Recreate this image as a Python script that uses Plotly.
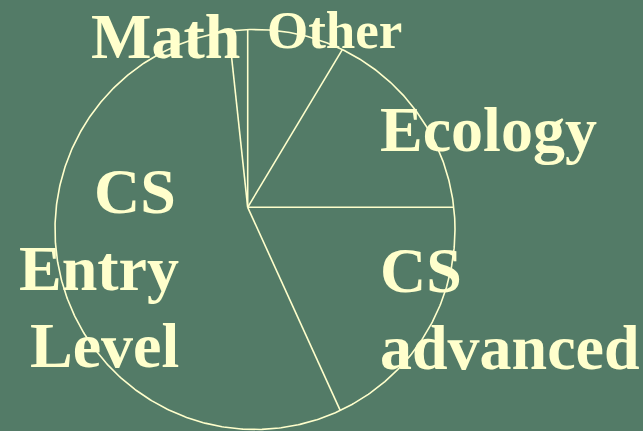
import numpy as np
import plotly.graph_objects as go

# Slice shares in percent, listed clockwise from 12 o'clock
categories = ["Other", "Ecology", "CS advanced", "CS Entry Level", "Math"]
shares = [8.6, 16.4, 18.2, 55.1, 1.7]

BG = "#537B67"
INK = "#FFFFCC"
W, H = 643, 431

# Outline circle and the point where the slice edges meet
cx, cy, r = 255.0, 229.5, 200.0
vx, vy = 247.7, 207.3

fig = go.Figure()

# Circle outline
t = np.linspace(0, 2 * np.pi, 721)
fig.add_trace(go.Scatter(
    x=cx + r * np.cos(t), y=cy + r * np.sin(t),
    mode="lines", line=dict(color=INK, width=1.6),
    hoverinfo="skip", showlegend=False))

# Slice edges: one ray per boundary, angle measured clockwise from up
bounds = np.concatenate([[0.0], np.cumsum(shares)[:-1]]) / 100.0 * 2 * np.pi
for ang in bounds:
    dx, dy = np.sin(ang), -np.cos(ang)
    ox, oy = vx - cx, vy - cy
    b = ox * dx + oy * dy
    c = ox * ox + oy * oy - r * r
    s = -b + np.sqrt(b * b - c)
    fig.add_trace(go.Scatter(
        x=[vx, vx + s * dx], y=[vy, vy + s * dy],
        mode="lines", line=dict(color=INK, width=1.6),
        hoverinfo="skip", showlegend=False))

# Category labels, one annotation per text line
label_lines = [
    # text, x, baseline, anchor, size
    ("Math", 90, 58, "left", 64),
    ("Other", 266, 48, "left", 53),
    ("Ecology", 379, 151, "left", 64),
    ("CS", 379, 292, "left", 64),
    ("advanced", 379, 369, "left", 64),
    ("CS", 177, 213, "right", 64),
    ("Entry", 180, 290, "right", 64),
    ("Level", 180, 367, "right", 64),
]
for text, x, base, anchor, size in label_lines:
    fig.add_annotation(
        x=x, y=base - 0.34 * size, text=f"<b>{text}</b>",
        xanchor=anchor, yanchor="middle", showarrow=False, borderpad=0,
        font=dict(family="Liberation Serif", size=size, color=INK))

fig.update_layout(
    width=W, height=H,
    margin=dict(l=0, r=0, t=0, b=0),
    paper_bgcolor=BG, plot_bgcolor=BG,
    xaxis=dict(range=[0, W], visible=False, fixedrange=True),
    yaxis=dict(range=[H, 0], visible=False, fixedrange=True),
    showlegend=False,
)

fig.write_html("out.html", config={"displayModeBar": False})
